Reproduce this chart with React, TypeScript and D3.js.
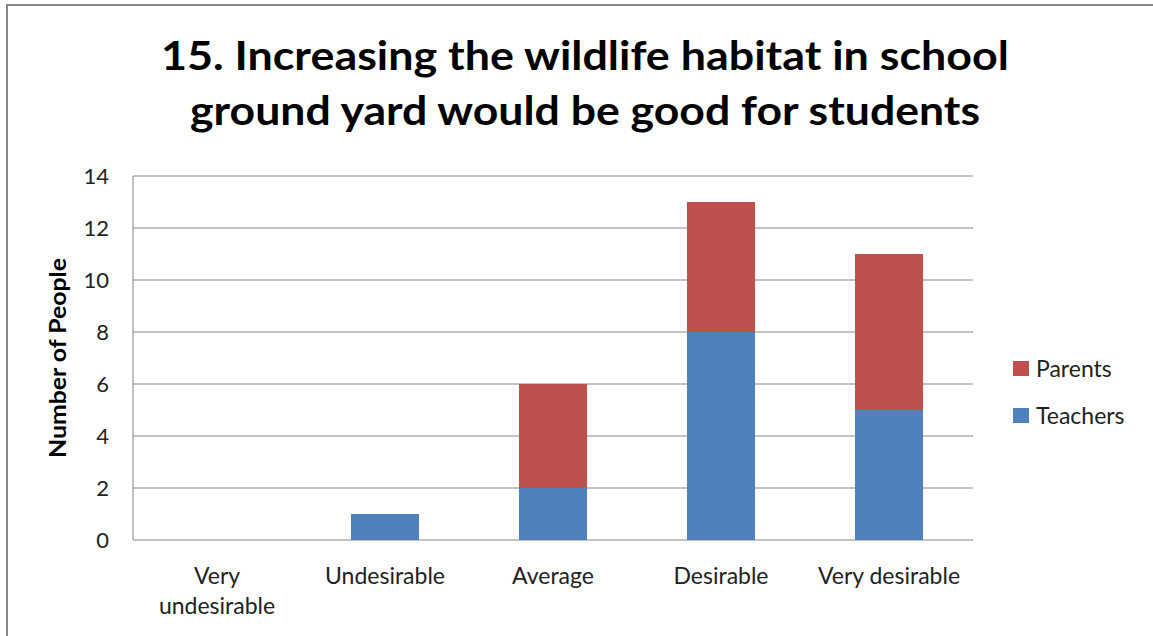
import React from "react";
import { scaleBand, scaleLinear, stack } from "d3";

const categories = ["Very undesirable", "Undesirable", "Average", "Desirable", "Very desirable"];
const teachers = [0, 1, 2, 8, 5];
const parents = [0, 0, 4, 5, 6];
const seriesNames = ["Teachers", "Parents"];
const seriesColors = ["#4F81BD", "#C0504D"];
const yTicks = [0, 2, 4, 6, 8, 10, 12, 14];
const titleLines = [
  "15. Increasing the wildlife habitat in school",
  "ground yard would be good for students",
];
const axisTitle = "Number of People";

const W = 1153;
const H = 636;
const plot = { left: 133, right: 973, top: 176, bottom: 540 };
const font = "Lato, 'Open Sans', sans-serif";

export default function App() {
  const x = scaleBand()
    .domain(categories)
    .range([plot.left, plot.right])
    .paddingInner(0.595)
    .paddingOuter(0.2975);
  const y = scaleLinear().domain([0, 14]).range([plot.bottom, plot.top]);

  const rows = categories.map((c, i) => ({ cat: c, Teachers: teachers[i], Parents: parents[i] }));
  const layers = stack<any>().keys(seriesNames)(rows);

  const labelLines = (c: string) => (c === "Very undesirable" ? ["Very", "undesirable"] : [c]);

  return (
    <div style={{ position: "absolute", left: 0, top: 0 }}>
      <svg width={W} height={H} style={{ display: "block", fontFamily: font }}>
        <rect x={0} y={0} width={W} height={H} fill="#fff" />
        <path d={`M7,${H} V5 H${W}`} fill="none" stroke="#888" strokeWidth={2} />

        {titleLines.map((t, i) => (
          <text
            key={i}
            x={(160 + 1010) / 2}
            y={70 + i * 55}
            textAnchor="middle"
            fontSize={40}
            fontWeight="bold"
            fill="#000"
            textLength={i === 0 ? 848 : 790}
            lengthAdjust="spacingAndGlyphs"
          >
            {t}
          </text>
        ))}

        {yTicks.map((v) => (
          <g key={v}>
            <line x1={plot.left} x2={plot.right} y1={y(v)} y2={y(v)} stroke="#878787" strokeWidth={1} />
            <text x={109} y={y(v)} dy="0.35em" textAnchor="end" fontSize={22} fill="#222">
              {v}
            </text>
          </g>
        ))}
        <line x1={plot.left} x2={plot.left} y1={plot.top} y2={plot.bottom} stroke="#878787" strokeWidth={1} />

        <text
          transform={`translate(66,${(plot.top + plot.bottom) / 2}) rotate(-90)`}
          textAnchor="middle"
          fontSize={23}
          fontWeight="bold"
          fill="#000"
          textLength={200}
          lengthAdjust="spacingAndGlyphs"
        >
          {axisTitle}
        </text>

        {layers.map((layer, si) =>
          layer.map((d, i) =>
            d[1] - d[0] > 0 ? (
              <rect
                key={`${si}-${i}`}
                x={x(categories[i])}
                width={x.bandwidth()}
                y={y(d[1])}
                height={y(d[0]) - y(d[1])}
                fill={seriesColors[si]}
              />
            ) : null
          )
        )}

        {categories.map((c) =>
          labelLines(c).map((line, li) => (
            <text
              key={c + li}
              x={x(c)! + x.bandwidth() / 2}
              y={584 + li * 30}
              textAnchor="middle"
              fontSize={23}
              fill="#222"
            >
              {line}
            </text>
          ))
        )}

        {["Parents", "Teachers"].map((name, i) => (
          <g key={name} transform={`translate(1013,${361 + i * 47})`}>
            <rect width={16} height={15} fill={seriesColors[seriesNames.indexOf(name)]} />
            <text x={23} y={16} fontSize={23} fill="#222">
              {name}
            </text>
          </g>
        ))}
      </svg>
    </div>
  );
}
